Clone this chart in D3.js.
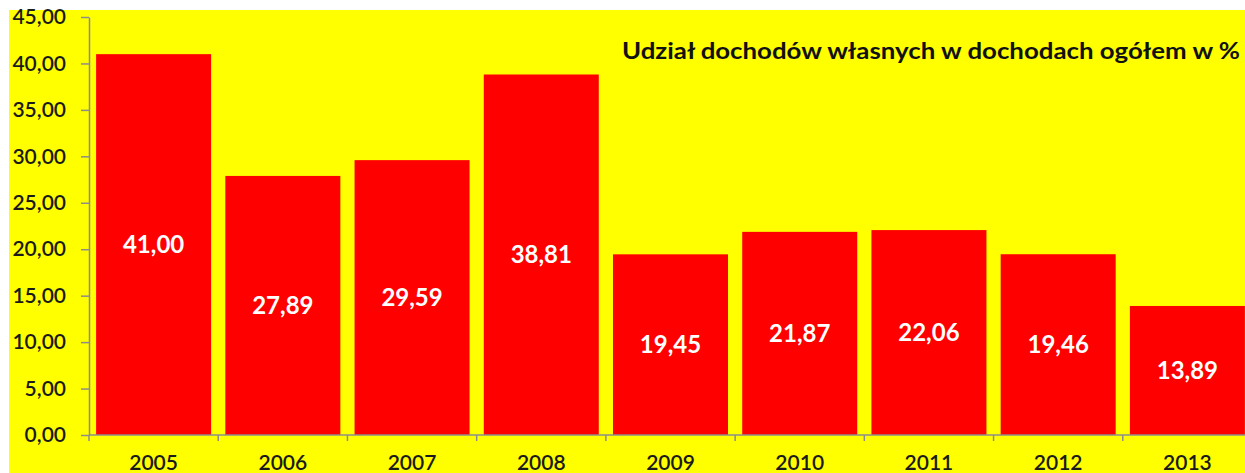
<!DOCTYPE html>
<html><head><meta charset="utf-8">
<script src="https://cdn.jsdelivr.net/npm/d3@7"></script>
<style>html,body{margin:0;padding:0;background:#fff;overflow:hidden}</style>
</head><body><svg id="c" width="1245" height="473"></svg>
<script>
const years = ["2005","2006","2007","2008","2009","2010","2011","2012","2013"];
const values = [41.00, 27.89, 29.59, 38.81, 19.45, 21.87, 22.06, 19.46, 13.89];
const yTicks = [0,5,10,15,20,25,30,35,40,45];
const title = "Udział dochodów własnych w dochodach ogółem w %";

const svg = d3.select("#c");
const font = "Lato, 'Open Sans', sans-serif";
svg.append("rect").attr("x",9).attr("y",10).attr("width",1236).attr("height",463).attr("fill","#FFFF00");

const x = d3.scaleBand().domain(years).range([89,1252]).paddingInner(0.11).paddingOuter(0.055);
const y = d3.scaleLinear().domain([0,45]).range([435,17]);
const fmt = v => d3.format(".2f")(v).replace(".",",");

// bars
svg.append("g").selectAll("rect").data(values).join("rect")
  .attr("x",(d,i)=>x(years[i])).attr("y",d=>y(d))
  .attr("width",x.bandwidth()).attr("height",d=>y(0)-y(d))
  .attr("fill","#FF0000");

// value labels
svg.append("g").selectAll("text").data(values).join("text")
  .attr("x",(d,i)=>x(years[i])+x.bandwidth()/2)
  .attr("y",d=>(y(d)+y(0))/2)
  .attr("dy","0.36em").attr("text-anchor","middle")
  .attr("fill","#fff").attr("font-family",font).attr("font-weight","bold").attr("font-size",24)
  .text(d=>fmt(d));

// y axis
const ya = svg.append("g").attr("transform","translate(89,0)")
  .call(d3.axisLeft(y).tickValues(yTicks).tickFormat(fmt).tickSize(8).tickSizeOuter(0).tickPadding(15));
ya.select(".domain").attr("stroke","#8c8c8c").attr("stroke-width",1.5);
ya.selectAll(".tick line").attr("stroke","#8c8c8c").attr("stroke-width",1.5);
ya.selectAll("text").attr("font-family",font).attr("font-size",21).attr("font-weight","600").attr("fill","#1a1a1a");

// x axis
const xa = svg.append("g").attr("transform","translate(0,435)");
xa.append("line").attr("x1",89).attr("x2",1252).attr("y1",0).attr("y2",0).attr("stroke","#8c8c8c").attr("stroke-width",1.5);
const step = x.step();
xa.selectAll("line.t").data(d3.range(years.length+1)).join("line").attr("class","t")
  .attr("x1",i=>89 + i*step).attr("x2",i=>89 + i*step).attr("y1",0).attr("y2",6)
  .attr("stroke","#8c8c8c").attr("stroke-width",1.5);
xa.selectAll("text").data(years).join("text")
  .attr("x",d=>x(d)+x.bandwidth()/2).attr("y",35)
  .attr("text-anchor","middle").attr("font-family",font).attr("font-size",21).attr("font-weight","600").attr("fill","#1a1a1a")
  .text(d=>d);

// title
svg.append("text").attr("x",622).attr("y",59).attr("text-anchor","start")
  .attr("font-family",font).attr("font-weight","bold").attr("font-size",22).attr("fill","#111")
  .attr("textLength",618).attr("lengthAdjust","spacingAndGlyphs")
  .text(title);
</script></body></html>
